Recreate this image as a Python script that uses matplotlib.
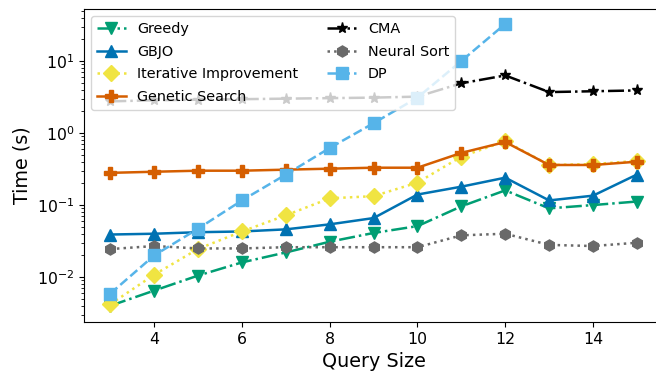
import matplotlib
matplotlib.use("Agg")
import matplotlib.pyplot as plt
import numpy as np

# query sizes and timings (s) per method
query_size = [3, 4, 5, 6, 7, 8, 9, 10, 11, 12, 13, 14, 15]
dp_sizes = [3, 4, 5, 6, 7, 8, 9, 10, 11, 12]

greedy = [0.0040, 0.0065, 0.0105, 0.016, 0.022, 0.031, 0.041, 0.051, 0.096, 0.16, 0.090, 0.10, 0.112]
gbjo = [0.039, 0.040, 0.042, 0.043, 0.046, 0.054, 0.066, 0.14, 0.18, 0.24, 0.116, 0.135, 0.265]
iterative = [0.0042, 0.0108, 0.0246, 0.043, 0.072, 0.124, 0.133, 0.205, 0.47, 0.77, 0.36, 0.37, 0.41]
genetic = [0.28, 0.29, 0.30, 0.30, 0.31, 0.32, 0.33, 0.33, 0.53, 0.75, 0.36, 0.36, 0.40]
cma = [2.75, 2.85, 2.9, 2.95, 3.0, 3.05, 3.1, 3.2, 4.9, 6.3, 3.7, 3.8, 3.9]
neural_sort = [0.0245, 0.027, 0.025, 0.025, 0.026, 0.026, 0.026, 0.026, 0.038, 0.040, 0.028, 0.027, 0.030]
dp = [0.0059, 0.020, 0.047, 0.116, 0.265, 0.62, 1.37, 3.1, 10.0, 32.7]

fig = plt.figure(figsize=(6.56, 3.79), dpi=100)
# right spine falls just outside the canvas, as in the original (tight crop)
ax = fig.add_axes([0.128, 0.150, 0.883, 0.826])

ms = 8
lw = 1.8
ax.plot(query_size, greedy, '-.', marker='v', color='#009E73', ms=ms, lw=lw, label='Greedy')
ax.plot(query_size, gbjo, '-', marker='^', color='#0072B2', ms=ms, lw=lw, label='GBJO')
ax.plot(query_size, iterative, ':', marker='D', color='#F0E442', ms=ms, lw=lw, label='Iterative Improvement')
ax.plot(query_size, genetic, '-', marker='P', color='#D55E00', ms=ms, lw=lw, label='Genetic Search')
ax.plot(query_size, cma, '-.', marker='*', color='black', ms=ms, lw=lw, label='CMA')
ax.plot(query_size, neural_sort, ':', marker='h', color='dimgray', ms=ms, lw=lw, label='Neural Sort')
ax.plot(dp_sizes, dp, '--', marker='s', color='#56B4E9', ms=ms, lw=lw, label='DP')

ax.set_yscale('log')
ax.set_ylim(0.00237, 52.5)
ax.set_xlim(2.4, 15.6)
ax.set_xlabel('Query Size', fontsize=13.8)
ax.set_ylabel('Time (s)', fontsize=13.8)
ax.tick_params(labelsize=11.3)
ax.set_xticks([4, 6, 8, 10, 12, 14])
ax.legend(ncol=2, loc='upper left', fontsize=10.4, framealpha=0.8,
          labelspacing=0.6, borderaxespad=0.5)

plt.savefig('out.png', dpi=100)
